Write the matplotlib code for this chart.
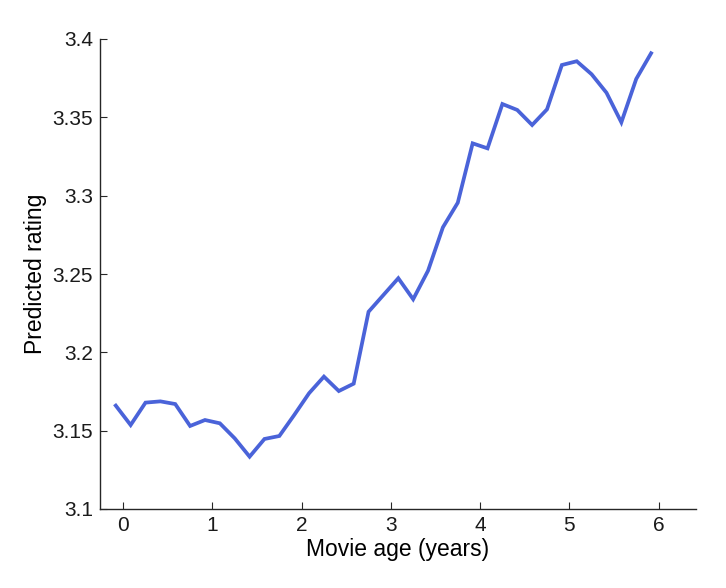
import numpy as np
import matplotlib
matplotlib.use("Agg")
from matplotlib import pyplot as plt
from matplotlib import rcParams
from matplotlib.ticker import FormatStrFormatter

rcParams.update({
    'font.family': ['Liberation Sans', 'DejaVu Sans'], 'font.size': 12,
    'xtick.direction': 'in', 'ytick.direction': 'in',
    'xtick.major.size': 5.0, 'ytick.major.size': 5.0,
})

# movie age in years, one point every two months
age_years = [-1/12 + k/6 for k in range(37)]
predicted_rating = [
    3.166, 3.1536, 3.1679, 3.1687, 3.167, 3.153, 3.1568, 3.1547, 3.1451, 3.1334,
    3.1447, 3.1466, 3.160, 3.1739, 3.1845, 3.1753, 3.180, 3.2259, 3.2366, 3.2473,
    3.2339, 3.2521, 3.2798, 3.2955, 3.3334, 3.3302, 3.3585, 3.3547, 3.3451, 3.3551,
    3.3834, 3.3858, 3.3775, 3.3657, 3.3468, 3.3745, 3.3909,
]
x_ticks = [0, 1, 2, 3, 4, 5, 6]
y_ticks = [3.1, 3.15, 3.2, 3.25, 3.3, 3.35, 3.4]

fig = plt.figure(figsize=(7.26, 5.88), dpi=100)
ax = fig.add_axes([100/726, 1 - 509/588, 596/726, 470/588])
ax.plot(age_years, predicted_rating, color='#4a63d9', linewidth=2.7,
        solid_joinstyle='miter')

ax.set_xlim(-0.26, 6.42)
ax.set_ylim(3.1, 3.4)
ax.set_xticks(x_ticks)
ax.set_yticks(y_ticks)
ax.yaxis.set_major_formatter(FormatStrFormatter('%g'))
ax.spines['top'].set_visible(False)
ax.spines['right'].set_visible(False)
for s in ('left', 'bottom'):
    ax.spines[s].set_color('#262626')
    ax.spines[s].set_linewidth(1.0)
ax.tick_params(colors='#262626', labelcolor='#1a1a1a', labelsize=15, pad=5)

ax.set_xlabel("Movie age (years)", fontsize=16.5, labelpad=2)
ax.set_ylabel("Predicted rating", fontsize=16.5, labelpad=4)

plt.savefig("out.png", dpi=100)
